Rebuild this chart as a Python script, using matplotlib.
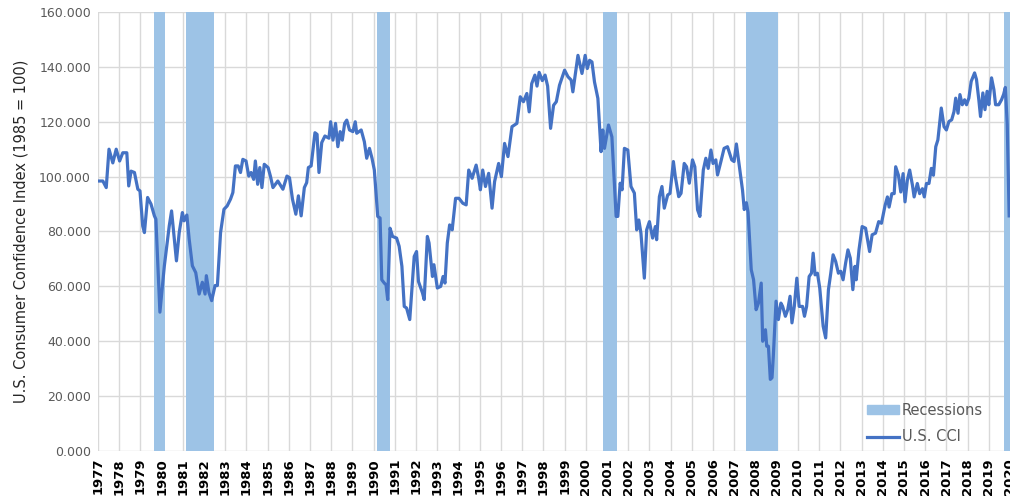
import matplotlib.pyplot as plt
from matplotlib.patches import Patch
from matplotlib.lines import Line2D

# recession bands (position on the chart's year axis)
rec_start = [1979.64, 1981.15, 1990.16, 2000.82, 2007.57, 2019.74]
rec_end = [1980.16, 1982.47, 1990.77, 2001.48, 2009.08, 2020.2]

# U.S. CCI (time on the year axis, index value)
cci_t = [
    1977.0, 1977.23, 1977.39, 1977.52, 1977.7, 1977.86,
    1978.02, 1978.17, 1978.36, 1978.45, 1978.56, 1978.72, 1978.88, 1978.98,
    1979.11, 1979.19, 1979.34, 1979.5, 1979.66, 1979.73, 1979.92,
    1980.13, 1980.36, 1980.47, 1980.7, 1980.83, 1980.98,
    1981.06, 1981.19, 1981.3, 1981.45, 1981.61, 1981.77, 1981.92,
    1982.05, 1982.11, 1982.23, 1982.36, 1982.52, 1982.63, 1982.78, 1982.94,
    1983.09, 1983.25, 1983.36, 1983.48, 1983.61, 1983.72, 1983.83, 1983.98,
    1984.11, 1984.22, 1984.34, 1984.42, 1984.53, 1984.63, 1984.73, 1984.84,
    1985.02, 1985.13, 1985.25, 1985.48, 1985.72, 1985.91,
    1986.03, 1986.17, 1986.33, 1986.45, 1986.58, 1986.73, 1986.84, 1986.92,
    1987.05, 1987.23, 1987.33, 1987.42, 1987.55, 1987.7, 1987.77, 1987.89, 1987.97,
    1988.08, 1988.2, 1988.31, 1988.42, 1988.52, 1988.63, 1988.73, 1988.86,
    1989.02, 1989.13, 1989.2, 1989.41, 1989.56, 1989.67, 1989.8, 1989.92,
    1990.03, 1990.19, 1990.3, 1990.38, 1990.5, 1990.58, 1990.66, 1990.77, 1990.89,
    1991.08, 1991.2, 1991.33, 1991.44, 1991.55, 1991.7, 1991.91,
    1992.02, 1992.11, 1992.3, 1992.38, 1992.53, 1992.61, 1992.77, 1992.84,
    1993.0, 1993.16, 1993.27, 1993.36, 1993.47, 1993.58, 1993.7, 1993.86,
    1994.02, 1994.2, 1994.36, 1994.48, 1994.64, 1994.83, 1994.95,
    1995.03, 1995.14, 1995.27, 1995.42, 1995.58, 1995.7, 1995.89,
    1996.02, 1996.17, 1996.33, 1996.52, 1996.75, 1996.91,
    1997.06, 1997.22, 1997.33, 1997.45, 1997.6, 1997.7, 1997.8, 1997.95,
    1998.08, 1998.2, 1998.34, 1998.48, 1998.61, 1998.76,
    1999.0, 1999.16, 1999.31, 1999.39, 1999.63, 1999.82, 1999.97,
    2000.07, 2000.18, 2000.29, 2000.41, 2000.57, 2000.72, 2000.8, 2000.88,
    2001.07, 2001.23, 2001.43, 2001.51, 2001.62, 2001.71, 2001.82, 2001.98,
    2002.13, 2002.29, 2002.4, 2002.5, 2002.6, 2002.76, 2002.87,
    2003.0, 2003.15, 2003.28, 2003.34, 2003.47, 2003.59, 2003.7, 2003.86, 2003.97,
    2004.13, 2004.22, 2004.38, 2004.49, 2004.64, 2004.75, 2004.88,
    2005.03, 2005.14, 2005.27, 2005.38, 2005.54, 2005.66, 2005.77, 2005.9,
    2006.0, 2006.13, 2006.21, 2006.37, 2006.52, 2006.68, 2006.88, 2006.99,
    2007.1, 2007.2, 2007.39, 2007.47, 2007.57, 2007.65, 2007.8, 2007.91,
    2008.03, 2008.14, 2008.27, 2008.34, 2008.47, 2008.53, 2008.61, 2008.7, 2008.78, 2008.84, 2008.97,
    2009.08, 2009.2, 2009.28, 2009.41, 2009.52, 2009.63, 2009.72, 2009.83, 2009.95,
    2010.06, 2010.22, 2010.31, 2010.41, 2010.53, 2010.64, 2010.72, 2010.81, 2010.92,
    2011.03, 2011.19, 2011.31, 2011.44, 2011.55, 2011.66, 2011.78, 2011.91,
    2012.02, 2012.13, 2012.25, 2012.36, 2012.47, 2012.59, 2012.69, 2012.75, 2012.88,
    2013.03, 2013.19, 2013.27, 2013.38, 2013.5, 2013.66, 2013.81, 2013.94,
    2014.11, 2014.22, 2014.3, 2014.43, 2014.54, 2014.61, 2014.74, 2014.85, 2014.96,
    2015.05, 2015.16, 2015.27, 2015.4, 2015.48, 2015.63, 2015.74, 2015.87, 2015.96,
    2016.06, 2016.18, 2016.29, 2016.39, 2016.5, 2016.6, 2016.76, 2016.89,
    2017.0, 2017.12, 2017.25, 2017.36, 2017.44, 2017.55, 2017.64, 2017.75, 2017.86, 2017.95,
    2018.06, 2018.17, 2018.33, 2018.42, 2018.53, 2018.61, 2018.72, 2018.82, 2018.92,
    2019.0, 2019.13, 2019.24, 2019.32, 2019.47, 2019.6, 2019.7, 2019.78, 2019.87, 2019.96,
]
cci_v = [
    98.4, 98.4, 96.0, 110.0, 105.0, 110.0,
    105.7, 108.7, 108.7, 96.6, 102.0, 101.5, 95.4, 94.8,
    82.0, 79.6, 92.4, 90.0, 85.7, 84.5, 50.6,
    67.5, 82.0, 87.5, 69.3, 79.6, 86.9,
    83.9, 86.0, 77.2, 67.5, 65.0, 57.2, 61.5,
    57.2, 63.9, 57.8, 54.8, 60.3, 60.3, 79.6, 88.1,
    89.3, 91.8, 94.2, 103.9, 103.9, 101.5, 106.3, 105.7,
    100.2, 101.5, 99.0, 105.7, 97.2, 103.3, 96.0, 104.5,
    103.3, 100.2, 96.0, 98.4, 95.4, 100.2,
    99.6, 91.8, 86.3, 93.0, 85.7, 96.0, 97.8, 103.3,
    103.9, 116.0, 115.4, 101.5, 112.4, 114.8, 114.5, 114.0, 120.0,
    113.3, 119.4, 110.9, 116.4, 113.3, 119.4, 120.6, 117.0,
    116.4, 120.0, 115.8, 117.0, 112.7, 106.7, 110.3, 106.7,
    102.4, 85.5, 84.9, 62.4, 61.2, 60.6, 55.2, 81.2, 78.2,
    77.6, 74.6, 67.3, 52.7, 52.1, 47.9, 70.9,
    72.7, 61.8, 57.6, 55.2, 78.2, 75.8, 63.6, 67.9,
    59.4, 60.0, 63.6, 61.2, 75.8, 82.4, 80.6, 92.1,
    92.1, 90.3, 89.7, 102.4, 99.4, 104.2, 99.4,
    95.2, 102.4, 96.4, 101.2, 88.5, 98.2, 104.8,
    100.0, 112.1, 107.3, 118.2, 119.4, 129.1,
    127.3, 130.3, 123.6, 133.9, 137.0, 133.0, 138.0, 135.0,
    137.0, 133.0, 117.6, 126.0, 127.3, 133.3,
    138.8, 136.4, 135.2, 130.9, 144.2, 137.6, 144.2,
    139.4, 142.4, 141.8, 134.5, 128.5, 109.1, 117.0, 110.3,
    118.8, 114.5, 85.5, 85.5, 97.6, 95.2, 110.3, 109.7,
    96.4, 94.0, 80.6, 84.2, 79.4, 63.0, 80.6,
    83.6, 77.6, 81.8, 77.0, 92.7, 96.4, 88.5, 93.3, 93.9,
    105.5, 100.0, 92.7, 93.9, 104.8, 103.6, 97.6,
    106.1, 103.6, 87.9, 85.5, 102.4, 106.7, 103.0, 109.7,
    104.8, 106.1, 100.6, 105.5, 110.3, 110.9, 106.1, 105.5,
    111.9, 106.1, 95.0, 88.0, 90.5, 87.0, 66.1, 62.4,
    51.5, 53.9, 61.2, 40.0, 44.2, 38.2, 38.2, 26.1, 26.7, 34.5, 54.6,
    47.9, 53.9, 52.7, 49.1, 51.5, 56.4, 46.7, 52.7, 63.0,
    52.7, 52.7, 49.1, 52.7, 63.6, 64.8, 72.1, 64.2, 64.8,
    59.4, 45.5, 41.2, 58.8, 64.8, 71.5, 69.1, 64.8,
    65.5, 62.4, 68.5, 73.3, 70.3, 58.8, 67.3, 62.4, 73.3,
    81.8, 81.2, 77.6, 72.7, 78.8, 79.4, 83.6, 83.0,
    89.5, 92.6, 88.9, 93.8, 93.8, 103.6, 100.5, 94.4, 101.1,
    90.8, 98.7, 102.4, 96.9, 92.6, 97.5, 93.8, 95.6, 92.6,
    97.5, 97.5, 103.0, 100.5, 110.9, 113.4, 125.0, 118.2,
    117.0, 120.1, 120.7, 123.7, 128.6, 123.1, 129.9, 126.2, 128.0, 126.2,
    128.6, 134.7, 137.8, 135.4, 128.0, 121.9, 130.5, 124.4, 131.1,
    126.2, 136.0, 131.7, 126.2, 126.2, 128.0, 130.0, 132.5, 119.0, 85.7,
]

years = list(range(1977, 2021))

fig = plt.figure(figsize=(10.1, 5.0), dpi=100)
ax = fig.add_axes([0.097, 0.098, 0.903, 0.878])

for s, e in zip(rec_start, rec_end):
    ax.axvspan(s, e, color='#9DC3E6', lw=0, zorder=2)
ax.plot(cci_t, cci_v, color='#4472C4', lw=2.3, zorder=3, solid_joinstyle='round')

ax.set_xlim(1977, 2020)
ax.set_ylim(0, 160)
ax.set_yticks(range(0, 161, 20))
ax.set_yticklabels([f'{v:.3f}' for v in range(0, 161, 20)], fontsize=9, color='#595959')
ax.set_xticks(years)
ax.set_xticklabels([str(y) for y in years], rotation=90, fontsize=9.5,
                   fontweight='bold', color='black')
ax.tick_params(length=0, pad=5)
ax.grid(True, color='#D9D9D9', lw=1, zorder=0)
ax.set_axisbelow(True)
for sp in ax.spines.values():
    sp.set_visible(False)

ax.set_ylabel('U.S. Consumer Confidence Index (1985 = 100)', fontsize=10.5,
              color='#262626', labelpad=8)

handles = [Patch(color='#9DC3E6', label='Recessions'),
           Line2D([], [], color='#4472C4', lw=2.3, label='U.S. CCI')]
ax.legend(handles=handles, loc='lower right', bbox_to_anchor=(0.985, -0.015),
          frameon=False, fontsize=10.5, labelcolor='#595959',
          handlelength=2.2, handleheight=0.5, handletextpad=0.2, labelspacing=0.8)

fig.savefig('out.png', dpi=100)
